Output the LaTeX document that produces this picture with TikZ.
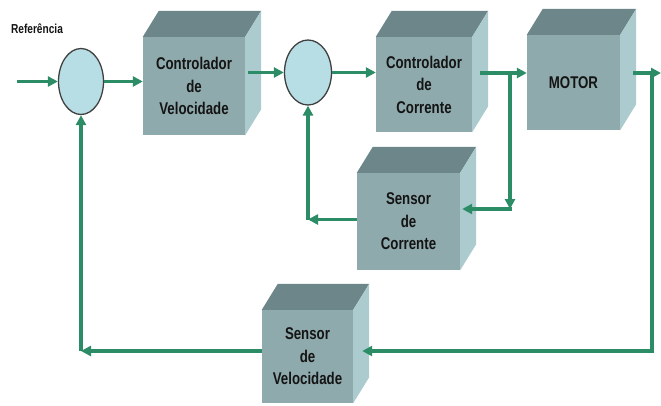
\documentclass[tikz,border=0pt]{standalone}
\usepackage{fontspec}
\setmainfont[FakeStretch=0.78]{Liberation Sans}
\usetikzlibrary{shapes.geometric,arrows.meta,calc}
\definecolor{arrgreen}{RGB}{44,140,102}
\definecolor{frontc}{RGB}{143,170,173}
\definecolor{topc}{RGB}{108,134,137}
\definecolor{sidec}{RGB}{172,203,206}
\definecolor{circfill}{RGB}{184,222,229}
\definecolor{txtc}{RGB}{20,20,20}
\tikzset{
  blk/.style={rectangle, fill=frontc, inner sep=0pt, align=center, text=txtc,
    font=\bfseries\fontsize{17}{22.5}\selectfont},
  sumnode/.style={ellipse, fill=circfill, draw=black!75, line width=1.3pt, inner sep=0pt,
    minimum width=45pt, minimum height=66pt},
  arr/.style={draw=arrgreen, line width=3.5pt, -{Triangle[length=10pt,width=10pt]}},
  lbl/.style={text=txtc, font=\bfseries\fontsize{13}{15}\selectfont, inner sep=0pt}
}
\begin{document}
\begin{tikzpicture}[x=1pt,y=-1pt]
\path[use as bounding box, fill=white] (0,0) rectangle (661,405);

% labels
\node[lbl] (ref) at (37,29) {Referência};

% summing junctions
\node[sumnode] (C1) at (81,81.5) {};
\node[sumnode, minimum width=47pt, minimum height=65pt] (C2) at (308,72.5) {};

% blocks (front faces)
\node[blk, minimum width=102pt, minimum height=98pt] (B1) at (194,86) {Controlador\\de\\Velocidade};
\node[blk, minimum width=96pt, minimum height=95pt] (B2) at (424,84.5) {Controlador\\de\\Corrente};
\node[blk, minimum width=93pt, minimum height=95pt] (M) at (573.5,82.5) {MOTOR};
\node[blk, minimum width=103pt, minimum height=97pt] (SC) at (408.5,221.5) {Sensor\\de\\Corrente};
\node[blk, minimum width=91pt, minimum height=93pt] (SV) at (307.5,356.5) {Sensor\\de\\Velocidade};

% top and side faces
\foreach \n in {B1,B2,M,SC,SV}{
  \fill[topc] (\n.north west) -- ([shift={(16,-26)}]\n.north west) -- ([shift={(16,-26)}]\n.north east) -- (\n.north east) -- cycle;
  \fill[sidec] (\n.north east) -- ([shift={(16,-26)}]\n.north east) -- ([shift={(16,-26)}]\n.south east) -- (\n.south east) -- cycle;
}

% coordinates
\coordinate (in) at (17,81.5);
\coordinate (j1) at (510,73);
\coordinate (j2) at (510,209);
\coordinate (j3) at (652,73);
\coordinate (out) at (661,73);
\coordinate (j4) at (652,351);
\coordinate (fb) at (81,351);
\coordinate (k) at ($(C2.south |- SC.west)+(0,-2)$);

% forward path
\draw[arr] (in) -- (C1.west);
\draw[arr] (C1.east) -- (C1.east -| B1.west);
\draw[arr] ([xshift=3pt]B1.east |- C2.west) -- (C2.west);
\draw[arr] (C2.east) -- (C2.east -| B2.west);
\draw[arr] ([xshift=8pt]B2.east |- j1) -- (j1 -| M.west);
\draw[arr] ([xshift=13pt]M.east |- j3) -- (out);

% current loop
\draw[arr] (j1) -- (j2);
\draw[arr] ([xshift=1.75pt]j2) -- ([xshift=2pt]SC.east |- j2);
\draw[arr] (SC.west |- k) -- (k);
\draw[arr] (k) -- (C2.south);

% speed loop
\draw[arr] (j3) -- (j4) -- ([xshift=9pt]SV.east |- j4);
\draw[arr] (SV.west |- fb) -- (fb);
\draw[arr] (fb) -- (C1.south);
\end{tikzpicture}
\end{document}
